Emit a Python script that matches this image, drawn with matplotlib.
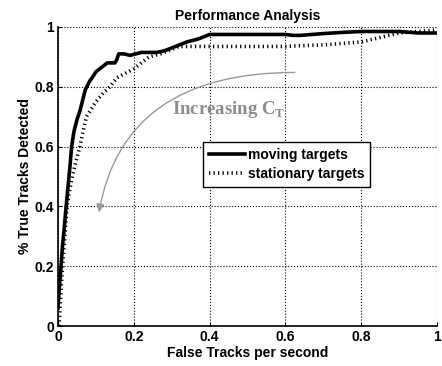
import matplotlib
matplotlib.use('Agg')
import matplotlib.pyplot as plt
from matplotlib.ticker import FuncFormatter

# moving targets ROC curve
moving_x = [0.0, 0.002, 0.005, 0.008, 0.012, 0.016, 0.02, 0.026, 0.032, 0.036, 0.042, 0.05,
            0.058, 0.066, 0.072, 0.076, 0.084, 0.09, 0.1, 0.11, 0.12, 0.13, 0.15, 0.155,
            0.16, 0.175, 0.19, 0.22, 0.26, 0.28, 0.31, 0.34, 0.37, 0.4, 0.5, 0.6, 0.62,
            0.64, 0.7, 0.75, 0.8, 0.9, 0.95, 1.0]
moving_y = [0.06, 0.1, 0.15, 0.2, 0.27, 0.32, 0.38, 0.46, 0.54, 0.6, 0.65, 0.69,
            0.72, 0.76, 0.79, 0.8, 0.82, 0.83, 0.85, 0.86, 0.87, 0.88, 0.88, 0.89,
            0.91, 0.91, 0.905, 0.915, 0.915, 0.92, 0.935, 0.95, 0.96, 0.975, 0.975, 0.975, 0.972,
            0.972, 0.978, 0.982, 0.985, 0.985, 0.98, 0.98]

# stationary targets ROC curve
stat_x = [0.003, 0.005, 0.008, 0.012, 0.018, 0.024, 0.03, 0.038, 0.047, 0.058, 0.066,
          0.075, 0.085, 0.1, 0.12, 0.137, 0.155, 0.17, 0.2, 0.22, 0.24, 0.27, 0.3,
          0.32, 0.4, 0.5, 0.6, 0.63, 0.7, 0.8, 0.85, 0.9, 0.95, 1.0]
stat_y = [0.0, 0.05, 0.12, 0.2, 0.3, 0.4, 0.45, 0.5, 0.55, 0.6, 0.65,
          0.7, 0.72, 0.75, 0.78, 0.8, 0.83, 0.84, 0.86, 0.88, 0.9, 0.91, 0.925,
          0.935, 0.935, 0.935, 0.935, 0.937, 0.94, 0.95, 0.965, 0.98, 0.985, 0.99]

ticks = [0, 0.2, 0.4, 0.6, 0.8, 1]

plt.rcParams['font.family'] = ['Liberation Sans', 'DejaVu Sans']
plt.rcParams['font.weight'] = 'bold'

fig = plt.figure(figsize=(4.42, 3.66), dpi=100)
ax = fig.add_axes([58 / 442, 40 / 366, 379 / 442, 299 / 366])

ax.plot(moving_x, moving_y, color='black', lw=2.6, label='moving targets')
ax.plot(stat_x, stat_y, color='black', lw=2.6, ls=(0, (0.35, 0.9)), label='stationary targets')

ax.set_xlim(0, 1)
ax.set_ylim(0, 1)
ax.set_xticks(ticks)
ax.set_yticks(ticks)
fmt = FuncFormatter(lambda v, p: '%g' % v)
ax.xaxis.set_major_formatter(fmt)
ax.yaxis.set_major_formatter(fmt)
ax.tick_params(direction='in', labelsize=10, length=3, pad=3)
ax.grid(True, color='black', ls=':', lw=0.8)
for s in ['top', 'right']:
    ax.spines[s].set_visible(False)
ax.spines['left'].set_linewidth(1.2)
ax.spines['bottom'].set_linewidth(1.2)

ax.set_title('Performance Analysis', fontsize=10, fontweight='bold', pad=5)
ax.set_xlabel('False Tracks per second', fontsize=10, fontweight='bold', labelpad=1)
ax.set_ylabel('% True Tracks Detected', fontsize=10, fontweight='bold', labelpad=2)

# gray curved arrow and label
ax.annotate('', xy=(0.108, 0.38), xytext=(0.625, 0.848),
            arrowprops=dict(arrowstyle='-|>', color='#999999', lw=1.0,
                            mutation_scale=12, shrinkA=0, shrinkB=0,
                            connectionstyle='angle3,angleA=180,angleB=80'))
ax.text(0.45, 0.725, r'Increasing C$_\mathregular{T}$', color='#8c8c8c', fontsize=13.5,
        fontweight='bold', family=['Liberation Serif', 'DejaVu Serif'],
        ha='center', va='center')

leg = ax.legend(loc='upper left', bbox_to_anchor=(0.383, 0.615), fontsize=10,
                frameon=True, fancybox=False, edgecolor='black', framealpha=1,
                handlelength=2.6, handletextpad=0.2, borderpad=0.4, labelspacing=0.4,
                borderaxespad=0)
leg.get_frame().set_linewidth(1.0)

fig.savefig('out.png', dpi=100)
plt.close(fig)
